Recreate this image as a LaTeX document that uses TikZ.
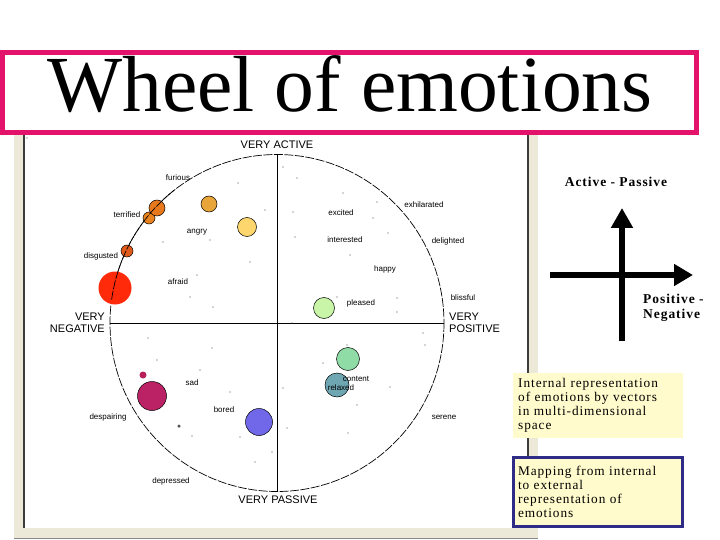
\documentclass[tikz,border=0pt]{standalone}
\usepackage{fontspec}
\setmainfont{Liberation Serif}
\newfontfamily\wsans{Liberation Sans}
\newfontfamily\spaced[LetterSpace=7]{Liberation Serif}
\usetikzlibrary{arrows.meta}
\definecolor{titlepink}{HTML}{E3126A}
\definecolor{framegray}{HTML}{ECE9D8}
\definecolor{framedark}{HTML}{3C3C3C}
\definecolor{notebg}{HTML}{FFFBCC}
\definecolor{navy}{HTML}{2E2C86}
\definecolor{cA}{HTML}{E8A53A}
\definecolor{cB}{HTML}{FDD66E}
\definecolor{cTer}{HTML}{E8821E}
\definecolor{cFur}{HTML}{E8781C}
\definecolor{cDis}{HTML}{E05A1A}
\definecolor{cAfr}{HTML}{FF2A0A}
\definecolor{cPle}{HTML}{C9F5A8}
\definecolor{cCon}{HTML}{8FDCA6}
\definecolor{cRel}{HTML}{6EA6B2}
\definecolor{cSadS}{HTML}{B8205A}
\definecolor{cSad}{HTML}{BB2266}
\definecolor{cBor}{HTML}{7068E8}
\begin{document}
\begin{tikzpicture}[x=1pt,y=-1pt,
  emo/.style={font=\wsans\fontsize{8}{8}\selectfont, inner sep=0pt},
  pole/.style={font=\wsans\fontsize{11}{12.5}\selectfont, inner sep=0pt},
  blob/.style={circle, draw=black, line width=0.5pt, inner sep=0pt},
  speck/.style={circle, fill=black!70, inner sep=0pt, minimum size=1.3pt},
  rim/.style={line width=0.7pt, dash pattern=on 9pt off 1.5pt},
  note/.style={anchor=north west, align=left, text width=160pt, inner xsep=5pt, inner ysep=2.5pt,
    font=\spaced\fontsize{13.3}{14}\selectfont, fill=notebg},
  fat/.style={line width=6.5pt},
  side/.style={font=\spaced\bfseries\fontsize{13.5}{15}\selectfont, inner sep=0pt}
]
\useasboundingbox (0,0) rectangle (720,540);
\fill[white] (0,0) rectangle (720,540);
% screenshot frame
\fill[framegray] (14,128) rectangle (538,538);
\fill[white] (24,128) rectangle (528,528);
\draw[framedark, line width=1.2pt] (24,128) -- (24,528);
\draw[framedark, line width=1.2pt] (528,128) -- (528,528);
\draw[framedark!60, line width=0.8pt] (14,538) -- (538,538);
% title
\node[draw=titlepink, fill=white, line width=5pt, minimum width=694pt, minimum height=80pt, inner sep=0pt]
  (titlebox) at (349.5,93) {};
\node[anchor=base, inner sep=0pt, font=\fontsize{79.5}{80}\selectfont] (title) at (350,112) {Wheel of emotions};
% wheel
\coordinate (C) at (277,323);
\coordinate (wN) at (277,155);
\coordinate (wS) at (277,492);
\coordinate (wW) at (110,323);
\coordinate (wE) at (444,323);
\draw[rim] (C) ellipse[x radius=167, y radius=168.5];
\draw[line width=0.9pt] (wN) -- (wS);
\draw[line width=0.9pt] (wW) -- (wE);
\node[pole] (vActive) at (277,145) {VERY ACTIVE};
\node[pole] (vPassive) at (278,500) {VERY PASSIVE};
\node[pole, anchor=east, align=right] (vNeg) at (105,323) {VERY\\NEGATIVE};
\node[pole, anchor=west, align=left] (vPos) at (449,323) {VERY\\POSITIVE};
% specks
\foreach \p in {(27,138),(238,183),(265,210),(163,242),(210,240),(250,262),(197,275),(190,297),(213,307),
  (283,167),(297,178),(343,193),(377,202),(293,212),(373,218),(295,237),(388,233),(350,255),(337,297),
  (397,298),(397,312),(292,323),(148,338),(212,348),(157,360),(200,370),(230,392),(192,436),(240,437),
  (272,452),(255,462),(423,333),(425,345),(323,363),(347,345),(390,387),(283,388),(357,405),(287,428),(348,433)}
  \node[speck] at \p {};
% blobs
\node[blob, fill=cA, minimum size=16pt] (bA) at (209,204) {};
\node[blob, fill=cB, minimum size=19pt] (bB) at (247,227) {};
\node[blob, fill=cTer, minimum size=12pt] (bTer) at (149,218) {};
\node[blob, fill=cFur, minimum size=16pt] (bFur) at (157,208) {};
\node[blob, fill=cDis, minimum size=12pt] (bDis) at (127,251) {};
\node[blob, draw=none, fill=cAfr, minimum size=33pt] (bAfr) at (115,288) {};
\node[blob, fill=cPle, minimum size=21pt] (bPle) at (324,308) {};
\node[blob, fill=cCon, minimum size=23pt] (bCon) at (348,359) {};
\node[blob, fill=cRel, minimum size=24pt] (bRel) at (337,385) {};
\node[blob, draw=none, fill=cSadS, minimum size=7pt] (bSad2) at (143,375) {};
\node[blob, fill=cSad, minimum size=29pt] (bSad) at (152,396) {};
\node[blob, draw=none, fill=black!65, minimum size=3.5pt] (bDot) at (179,426) {};
\node[blob, fill=cBor, minimum size=27pt] (bBor) at (259,422) {};
\draw[rim] (C) ++(188:167 and 168.5) arc[start angle=188, end angle=232, x radius=167, y radius=168.5];
% emotion labels
\node[emo] (lFurious) at (178,178) {furious};
\node[emo] (lTerrified) at (127,215) {terrified};
\node[emo] (lAngry) at (197,232) {angry};
\node[emo] (lDisgusted) at (101,256) {disgusted};
\node[emo] (lAfraid) at (178,282) {afraid};
\node[emo] (lExcited) at (341,213) {excited};
\node[emo] (lExhil) at (424,205) {exhilarated};
\node[emo] (lInter) at (345,240) {interested};
\node[emo] (lDelight) at (448,241) {delighted};
\node[emo] (lHappy) at (385,269) {happy};
\node[emo] (lPleased) at (361,303) {pleased};
\node[emo] (lBliss) at (463,298) {blissful};
\node[emo] (lSad) at (192,383) {sad};
\node[emo] (lDesp) at (108,417) {despairing};
\node[emo] (lBored) at (224,410) {bored};
\node[emo] (lDepr) at (171,481) {depressed};
\node[emo] (lContent) at (356,379) {content};
\node[emo] (lRelaxed) at (341,388) {relaxed};
\node[emo] (lSerene) at (444,417) {serene};
% right panel
\node[side] (axTitle) at (616,182) {Active - Passive};
\coordinate (vBot) at (622,341);
\coordinate (vTop) at (622,208);
\coordinate (hL) at (550,275);
\coordinate (hR) at (693,275);
\draw[fat, -{Triangle[length=20pt, width=21pt]}] (vBot) -- (vTop);
\draw[fat, -{Triangle[length=19pt, width=21pt]}] (hL) -- (hR);
\node[side, anchor=west, align=left] (axPN) at (643,308) {Positive -\\Negative};
% notes
\node[note, minimum height=65pt] (note1) at (513,373)
  {Internal representation\\ of emotions by vectors\\ in multi-dimensional\\ space};
\node[note, draw=navy, line width=3pt, minimum height=69pt, text width=159pt] (note2) at (511.5,455.5)
  {Mapping from internal\\ to external\\ representation of\\ emotions};
\end{tikzpicture}
\end{document}
